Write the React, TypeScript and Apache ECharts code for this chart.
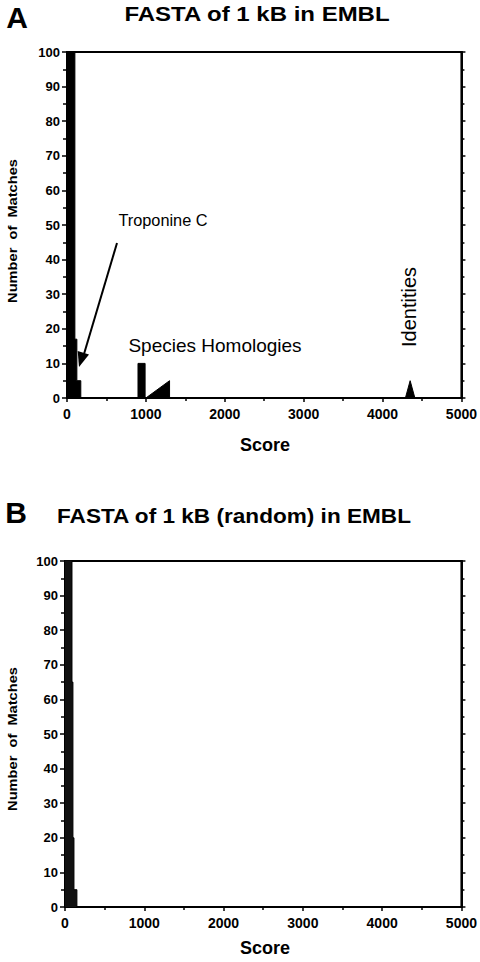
import React, { useEffect, useRef } from "react";
import * as echarts from "echarts";

// Panel A: FASTA of 1 kB in EMBL (score, number of matches outline)
const topScores = [0, 100, 100, 125, 125, 175, 175, 900, 900, 990, 990, 1000, 1300, 1300, 4290, 4350, 4410, 5000];
const topCounts = [160, 160, 17, 17, 5, 5, 0, 0, 10, 10, 0, 0, 5, 0, 0, 5, 0, 0];

// Panel B: FASTA of 1 kB (random) in EMBL
const randScores = [0, 88, 88, 100, 100, 113, 113, 150, 150, 5000];
const randCounts = [160, 160, 65, 65, 20, 20, 5, 5, 0, 0];

const xTicks = { min: 0, max: 5000, interval: 1000 };
const yTicks = { min: 0, max: 100, interval: 10 };

const FONT = "'Liberation Sans', Arial, Helvetica, sans-serif";

function pairs(xs: number[], ys: number[]) {
  return xs.map((x, i) => [x, ys[i]]);
}

export default function App() {
  const ref = useRef<HTMLDivElement>(null);
  useEffect(() => {
    document.body.style.margin = "0";
    const chart = echarts.init(ref.current!, undefined, { renderer: "svg" });
    const grids = [
      { left: 67, top: 52, width: 397, height: 346 },
      { left: 65, top: 561, width: 398, height: 346 },
    ];
    const xAxis: any[] = [];
    const yAxis: any[] = [];
    grids.forEach((_, gi) => {
      xAxis.push({
        type: "value",
        gridIndex: gi,
        ...xTicks,
        axisLine: { show: true, lineStyle: { color: "#000", width: 2 } },
        axisTick: { show: true, length: 4, lineStyle: { color: "#000", width: 1.5 } },
        minorTick: { show: true, splitNumber: 2, length: 3, lineStyle: { color: "#000", width: 1.5 } },
        splitLine: { show: false },
        axisLabel: {
          color: "#000",
          fontFamily: FONT,
          fontWeight: "bold",
          fontSize: 14,
          margin: 9,
          formatter: (v: number) => String(v),
        },
      });
      yAxis.push({
        type: "value",
        gridIndex: gi,
        position: "left",
        ...yTicks,
        axisLine: { show: true, lineStyle: { color: "#000", width: 2 } },
        axisTick: { show: true, length: 5, lineStyle: { color: "#000", width: 1.5 } },
        minorTick: { show: true, splitNumber: 2, length: 4, lineStyle: { color: "#000", width: 1.5 } },
        splitLine: { show: false },
        axisLabel: {
          color: "#000",
          fontFamily: FONT,
          fontWeight: "bold",
          fontSize: 13,
          margin: 7,
          formatter: (v: number) => String(v),
        },
      });
      yAxis.push({
        type: "value",
        gridIndex: gi,
        position: "right",
        ...yTicks,
        axisLine: { show: true, lineStyle: { color: "#000", width: 2 } },
        axisTick: { show: true, length: 4, lineStyle: { color: "#000", width: 1.5 } },
        minorTick: { show: true, splitNumber: 2, length: 3, lineStyle: { color: "#000", width: 1.5 } },
        splitLine: { show: false },
        axisLabel: { show: false },
      });
    });

    const text = (t: string, x: number, y: number, font: string, extra: any = {}) => ({
      type: "text",
      x,
      y,
      ...extra,
      style: { text: t, font, fill: "#000", textAlign: "center", textVerticalAlign: "middle" },
    });

    chart.setOption({
      animation: false,
      grid: grids.map((g) => ({ ...g, show: true, borderColor: "#000", borderWidth: 2, backgroundColor: "transparent" })),
      xAxis,
      yAxis,
      series: [
        {
          type: "line",
          xAxisIndex: 0,
          yAxisIndex: 0,
          data: pairs(topScores, topCounts),
          symbol: "none",
          clip: true,
          lineStyle: { color: "#000", width: 1 },
          areaStyle: { color: "#000", opacity: 1 },
        },
        {
          type: "line",
          xAxisIndex: 1,
          yAxisIndex: 2,
          data: pairs(randScores, randCounts),
          symbol: "none",
          clip: true,
          lineStyle: { color: "#000", width: 1 },
          areaStyle: { color: "#111", opacity: 1 },
        },
      ],
      graphic: [
        text("A", 17, 17, `bold 30px ${FONT}`),
        text("FASTA of 1 kB in EMBL", 257, 14, `bold 20px ${FONT}`, { scaleX: 1.2 }),
        text("B", 16, 512, `bold 30px ${FONT}`),
        text("FASTA of 1 kB (random) in EMBL", 234, 516, `bold 20px ${FONT}`, { scaleX: 1.13 }),
        text("Number  of  Matches", 13, 231, `bold 12px ${FONT}`, { rotation: Math.PI / 2, scaleX: 1.22 }),
        text("Number  of  Matches", 13, 739, `bold 12px ${FONT}`, { rotation: Math.PI / 2, scaleX: 1.22 }),
        text("Score", 265, 445, `bold 18px ${FONT}`),
        text("Score", 265, 948, `bold 18px ${FONT}`),
        text("Troponine C", 163, 220, `16px ${FONT}`, { scaleX: 1.02 }),
        text("Species Homologies", 215, 345, `19px ${FONT}`),
        text("Identities", 409, 307, `20px ${FONT}`, { rotation: Math.PI / 2 }),
        {
          type: "line",
          shape: { x1: 117, y1: 243, x2: 84, y2: 354 },
          style: { stroke: "#000", lineWidth: 2 },
        },
        {
          type: "polygon",
          shape: { points: [[79, 367], [89, 354.5], [77.7, 350.9]] },
          style: { fill: "#000" },
        },
      ],
    });
    return () => chart.dispose();
  }, []);
  return <div ref={ref} style={{ width: 480, height: 962 }} />;
}
